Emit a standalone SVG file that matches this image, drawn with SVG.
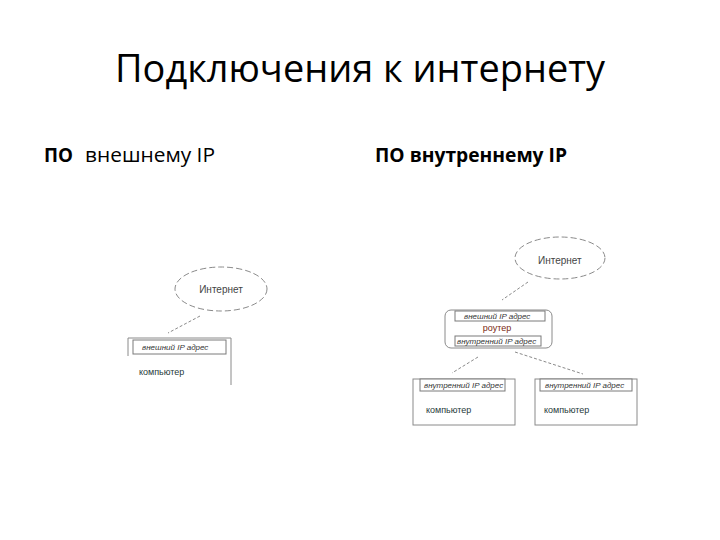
<svg xmlns="http://www.w3.org/2000/svg" width="720" height="540" viewBox="0 0 720 540">
<style>
.title{font-family:"Open Sans","Noto Sans",sans-serif;font-size:38px;fill:#000}
.sub{font-family:"Open Sans","Noto Sans",sans-serif;font-size:20px;fill:#000}
.b{font-weight:bold}
.box{fill:none;stroke:#8a8a8a;stroke-width:1}
.hdr{fill:#fff;stroke:#7a7a7a;stroke-width:1}
.ell{fill:#fff;stroke:#8a8a8a;stroke-width:1;stroke-dasharray:6 3}
.dash{fill:none;stroke:#8a8a8a;stroke-width:1;stroke-dasharray:3 2}
.lbl{font-family:"Liberation Sans",Arial,sans-serif;font-size:8px;font-style:italic;fill:#333}
.net{font-family:"Liberation Sans",Arial,sans-serif;font-size:10px;fill:#444}
.pc{font-family:"Liberation Sans",Arial,sans-serif;font-size:9px;fill:#1f3a3a}
.rt{font-family:"Liberation Sans",Arial,sans-serif;font-size:9px;fill:#7a2a10}
</style>
<rect width="720" height="540" fill="#fff"/>
<text class="title" x="360" y="82" text-anchor="middle" textLength="490" lengthAdjust="spacingAndGlyphs">Подключения к интернету</text>
<text class="sub b" x="44" y="162" textLength="29" lengthAdjust="spacingAndGlyphs">ПО</text>
<text class="sub" x="85" y="162" textLength="130" lengthAdjust="spacingAndGlyphs">внешнему IP</text>
<text class="sub b" x="375" y="162" textLength="192" lengthAdjust="spacingAndGlyphs">ПО внутреннему IP</text>

<g id="connectors">
<path class="dash" d="M200,316 L168,333"/>
<path class="dash" d="M528,282 L502,300"/>
<path class="dash" d="M478,357 L452,373"/>
<path class="dash" d="M515,352 L583,374"/>
</g>

<g id="left-internet">
<ellipse class="ell" cx="221" cy="289" rx="46" ry="22"/>
<text class="net" x="221" y="293" text-anchor="middle">Интернет</text>
</g>
<g id="left-computer">
<path class="box" d="M128,356 V338 H231 V385"/>
<rect class="hdr" x="133" y="340" width="93" height="14"/>
<text class="lbl" x="142" y="350">внешний IP адрес</text>
<text class="pc" x="139" y="375">компьютер</text>
</g>

<g id="right-internet">
<ellipse class="ell" cx="560" cy="258" rx="45" ry="21"/>
<text class="net" x="538" y="264">Интернет</text>
</g>
<g id="router">
<rect class="box" x="445" y="310" width="107" height="38" rx="6"/>
<rect class="hdr" x="455" y="311" width="90" height="10"/>
<text class="lbl" x="464" y="319">внешний IP адрес</text>
<text class="rt" x="497" y="331" text-anchor="middle">роутер</text>
<rect class="hdr" x="455" y="336" width="86" height="10"/>
<text class="lbl" x="457" y="344">внутренний IP адрес</text>
</g>
<g id="computer1">
<rect class="box" x="413" y="379" width="102" height="46"/>
<rect class="hdr" x="420" y="379" width="85" height="12"/>
<text class="lbl" x="424" y="388">внутренний IP адрес</text>
<text class="pc" x="426" y="413">компьютер</text>
</g>
<g id="computer2">
<rect class="box" x="535" y="379" width="102" height="46"/>
<rect class="hdr" x="540" y="379" width="92" height="12"/>
<text class="lbl" x="545" y="388">внутренний IP адрес</text>
<text class="pc" x="544" y="413">компьютер</text>
</g>
</svg>
